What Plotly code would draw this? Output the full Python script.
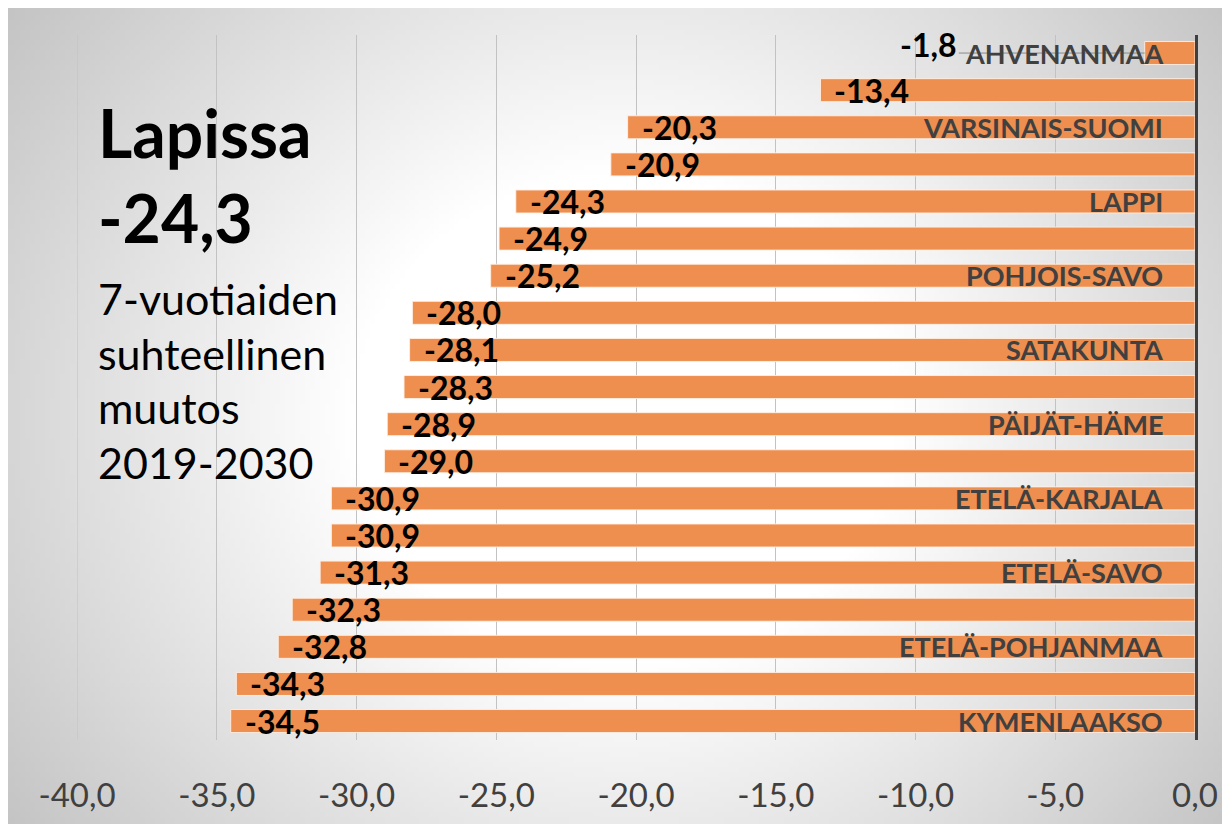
import base64
import struct
import zlib

import numpy as np
import plotly.graph_objects as go

# ---------------- data ----------------
values = [-1.8, -13.4, -20.3, -20.9, -24.3, -24.9, -25.2, -28.0, -28.1, -28.3,
          -28.9, -29.0, -30.9, -30.9, -31.3, -32.3, -32.8, -34.3, -34.5]
region_labels = ["AHVENANMAA", "", "VARSINAIS-SUOMI", "", "LAPPI", "",
                 "POHJOIS-SAVO", "", "SATAKUNTA", "", "PÄIJÄT-HÄME", "",
                 "ETELÄ-KARJALA", "", "ETELÄ-SAVO", "", "ETELÄ-POHJANMAA", "",
                 "KYMENLAAKSO"]
x_ticks = [-40, -35, -30, -25, -20, -15, -10, -5, 0]
title_lines = ["Lapissa", "-24,3"]
subtitle_lines = ["7-vuotiaiden", "suhteellinen", "muutos", "2019-2030"]

# ---------------- layout constants ----------------
OFF = 8                      # browser body margin
W, H = 1230 - OFF, 824 - OFF
PLOT_L, PLOT_R, PLOT_T, PLOT_B = 77, 1195, 34.5, 739.6   # screen px
FONT = "Lato, 'Open Sans', sans-serif"
BAR_COLOR = "#EE8E4F"
TEXT_GRAY = "#404040"
GRID_COLOR = "#c2c2c2"
FIRST_LABEL_END = -8.45  # x (data units) where the leader-lined first label ends


def fmt(v):
    return f"{v:.1f}".replace(".", ",")


def py(screen_px):
    return 1 - (screen_px - OFF) / H


def px_(screen_px):
    return (screen_px - OFF) / W


# ---------------- radial gradient background (PNG data URI) ----------------
def gradient_png(w, h, scale):
    xs = (np.arange(w) + 0.5) * scale + OFF
    ys = (np.arange(h) + 0.5) * scale + OFF
    X, Y = np.meshgrid(xs, ys)
    r = np.sqrt(((X - 625) / 275.0) ** 2 + ((Y - 420) / 250.0) ** 2)
    drop = np.clip(r - 1.0, 0, None) * 33.0
    img = np.clip(255 - drop, 0, 255).astype(np.uint8)
    raw = b"".join(b"\x00" + img[i].tobytes() for i in range(h))

    def chunk(t, d):
        return (struct.pack(">I", len(d)) + t + d
                + struct.pack(">I", zlib.crc32(t + d) & 0xFFFFFFFF))

    png = (b"\x89PNG\r\n\x1a\n"
           + chunk(b"IHDR", struct.pack(">IIBBBBB", w, h, 8, 0, 0, 0, 0))
           + chunk(b"IDAT", zlib.compress(raw, 9))
           + chunk(b"IEND", b""))
    return "data:image/png;base64," + base64.b64encode(png).decode()


bg_src = gradient_png(W // 5 + 1, H // 5 + 1, 5)

idx = list(range(len(values)))

fig = go.Figure()
fig.add_trace(go.Bar(
    x=values, y=idx, orientation="h",
    marker=dict(color=BAR_COLOR, line=dict(color="rgba(255,240,228,0.9)", width=1)),
    width=0.62, hoverinfo="skip", showlegend=False,
))

# leader line for the first (small) bar label
fig.add_trace(go.Scatter(
    x=[values[0], FIRST_LABEL_END], y=[idx[0], idx[0]], mode="lines",
    line=dict(color="#8a8a8a", width=1), hoverinfo="skip", showlegend=False,
))

# gridline at the left edge of the axis range (plotly skips edge gridlines)
fig.add_vline(x=x_ticks[0], line=dict(color=GRID_COLOR, width=1), layer="below")

annotations = []
# region labels, right-aligned inside the plot next to the 0 axis
for i, lab in enumerate(region_labels):
    if lab:
        annotations.append(dict(
            x=0, y=idx[i], xref="x", yref="y", text=lab, showarrow=False,
            xanchor="right", yanchor="middle", xshift=-30,
            font=dict(family=FONT, size=27, color=TEXT_GRAY, weight="bold")))

# value labels
for i, v in enumerate(values):
    if i == 0:
        annotations.append(dict(
            x=FIRST_LABEL_END, y=idx[i], xref="x", yref="y", text=fmt(v),
            showarrow=False, xanchor="right", yanchor="middle", yshift=9,
            font=dict(family=FONT, size=32, color="black", weight="bold")))
    else:
        annotations.append(dict(
            x=v, y=idx[i], xref="x", yref="y", text=fmt(v),
            showarrow=False, xanchor="left", yanchor="middle", xshift=12,
            font=dict(family=FONT, size=32, color="black", weight="bold")))

title_centers = [132, 218]
for t, c in zip(title_lines, title_centers):
    annotations.append(dict(
        x=px_(96), y=py(c), xref="paper", yref="paper", text=t, showarrow=False,
        xanchor="left", yanchor="middle",
        font=dict(family=FONT, size=66, color="black", weight="bold")))

sub_centers = [298, 353, 407, 462]
for t, c in zip(subtitle_lines, sub_centers):
    annotations.append(dict(
        x=px_(96), y=py(c), xref="paper", yref="paper", text=t, showarrow=False,
        xanchor="left", yanchor="middle",
        font=dict(family=FONT, size=43, color="black")))

fig.update_layout(
    width=W, height=H,
    margin=dict(l=0, r=0, t=0, b=0, autoexpand=False),
    paper_bgcolor="#d0d0d0",
    plot_bgcolor="rgba(0,0,0,0)",
    images=[dict(source=bg_src, xref="paper", yref="paper", x=0, y=1,
                 sizex=1, sizey=1, xanchor="left", yanchor="top",
                 sizing="stretch", layer="below")],
    xaxis=dict(
        domain=[px_(PLOT_L), px_(PLOT_R)], range=[-40, 0],
        tickmode="array", tickvals=x_ticks, ticktext=[fmt(t) for t in x_ticks],
        showgrid=True, gridcolor=GRID_COLOR, gridwidth=1,
        zeroline=False, showline=False, ticks="",
        ticklabelstandoff=33, automargin=False,
        tickfont=dict(family=FONT, size=33, color=TEXT_GRAY),
        fixedrange=True,
    ),
    yaxis=dict(
        domain=[py(PLOT_B), py(PLOT_T)], range=[len(values) - 0.5, -0.5],
        side="right", showticklabels=False, ticks="",
        showline=True, linecolor="#3f3f3f", linewidth=3,
        showgrid=False, zeroline=False, automargin=False,
        fixedrange=True,
    ),
    annotations=annotations,
)

fig.write_html("out.html")
